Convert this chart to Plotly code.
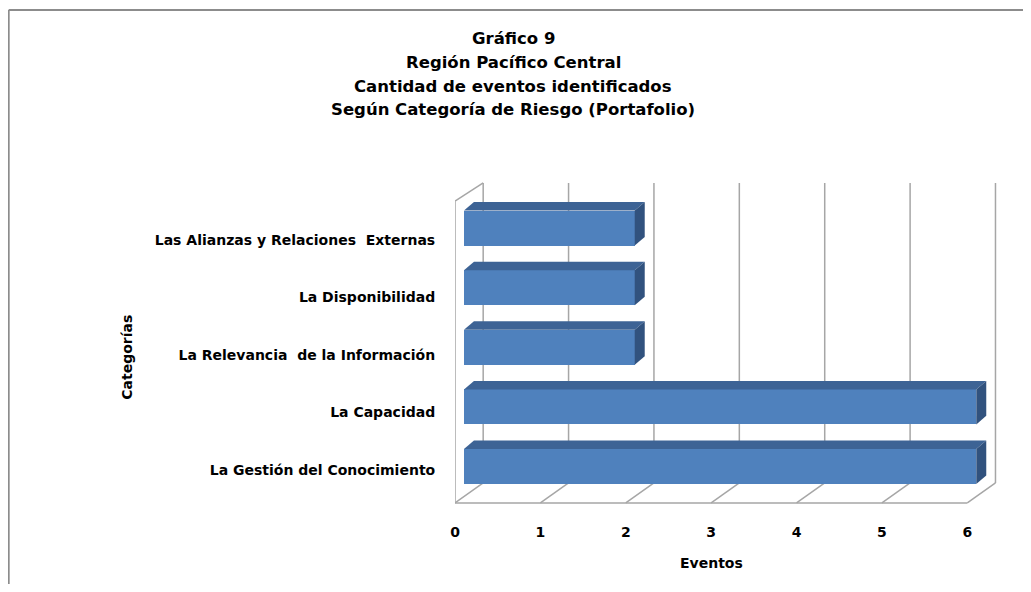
import plotly.graph_objects as go

# ---------------- data ----------------
categories = [
    "La Gestión del Conocimiento",
    "La Capacidad",
    "La Relevancia  de la Información",
    "La Disponibilidad",
    "Las Alianzas y Relaciones  Externas",
]
values = [6, 6, 2, 2, 2]
x_ticks = [0, 1, 2, 3, 4, 5, 6]
title_lines = [
    "Gráfico 9",
    "Región Pacífico Central",
    "Cantidad de eventos identificados",
    "Según Categoría de Riesgo (Portafolio)",
]
x_title = "Eventos"
y_title = "Categorías"

# ---------------- layout / style constants ----------------
OFF = 8                       # page body margin
W, H = 1031 - 2 * OFF, 592 - 2 * OFF
ML, MR, MT, MB = 447, 13.4, 162, 69
PW, PH = W - ML - MR, H - MT - MB
XR = [0, 6.5]
YR = [-0.814, 4.975]

FONT = "DejaVu Sans, Open Sans, sans-serif"
WALL = "#A6A6A6"
FRONT = "#4F81BD"
TOP = "#3D6395"
SIDE = "#31527E"

DX, DY = 0.33, 0.336          # depth of the 3-D box (data units)
FLOOR_Y = -0.612
TOP_BACK = 4.757
TOP_FRONT = TOP_BACK - DY + 0.03
BX = 0.105                    # bar front-face start (depth offset)
BH = 0.587                    # bar thickness
TX, TY = 0.117, 0.143         # bar depth
LABEL_SCALE, LABEL_SHIFT = 0.965, -0.06

idx = list(range(len(categories)))
xmax = max(x_ticks)

def px_x(p):
    return (p - OFF - ML) / PW

def px_y(p):
    return (H - MB - (p - OFF)) / PH

fig = go.Figure()

# front faces
fig.add_trace(go.Bar(
    orientation="h", y=idx, x=values, base=[BX] * len(values), width=BH,
    marker=dict(color=FRONT, line=dict(width=0)), hoverinfo="skip",
    showlegend=False,
))

# top & side faces
for i, v in zip(idx, values):
    t = i + BH / 2
    b = i - BH / 2
    fig.add_trace(go.Scatter(
        x=[BX, BX + TX, BX + v + TX, BX + v, BX],
        y=[t, t + TY, t + TY, t, t],
        fill="toself", fillcolor=TOP, mode="lines", line=dict(width=0, color=TOP),
        hoverinfo="skip", showlegend=False,
    ))
    fig.add_trace(go.Scatter(
        x=[BX + v, BX + v, BX + v + TX, BX + v + TX, BX + v],
        y=[b, t, t + TY, b + TY, b],
        fill="toself", fillcolor=SIDE, mode="lines", line=dict(width=0, color=SIDE),
        hoverinfo="skip", showlegend=False,
    ))

shapes = []
line = dict(color=WALL, width=1.5)
# back wall gridlines
for k in x_ticks:
    shapes.append(dict(type="line", xref="x", yref="y", layer="below",
                       x0=k + DX, x1=k + DX, y0=FLOOR_Y + DY, y1=TOP_BACK, line=line))
# floor diagonals
for k in x_ticks:
    shapes.append(dict(type="line", xref="x", yref="y", layer="below",
                       x0=k, x1=k + DX, y0=FLOOR_Y, y1=FLOOR_Y + DY, line=line))
# floor front edge
shapes.append(dict(type="line", xref="x", yref="y", layer="below",
                   x0=0, x1=xmax, y0=FLOOR_Y, y1=FLOOR_Y, line=line))
# left wall front edge + top
shapes.append(dict(type="line", xref="x", yref="y", layer="below",
                   x0=0, x1=0, y0=FLOOR_Y, y1=TOP_FRONT, line=line))
shapes.append(dict(type="line", xref="x", yref="y", layer="below",
                   x0=0, x1=DX, y0=TOP_FRONT, y1=TOP_BACK, line=line))
# outer chart border (left & top)
border = dict(color="#8C8C8C", width=2)
shapes.append(dict(type="line", xref="paper", yref="paper",
                   x0=px_x(9), x1=px_x(9), y0=px_y(10), y1=px_y(600), line=border))
shapes.append(dict(type="line", xref="paper", yref="paper",
                   x0=px_x(9), x1=px_x(1040), y0=px_y(10), y1=px_y(10), line=border))

annotations = []
for txt, yp in zip(title_lines, [38, 62, 86, 110]):
    annotations.append(dict(text=txt, xref="paper", yref="paper", x=px_x(513), y=px_y(yp),
                            xanchor="center", yanchor="middle", showarrow=False,
                            font=dict(family=FONT, size=16.5, color="black", weight="bold")))
annotations.append(dict(text=x_title, xref="x", yref="paper", x=3, y=px_y(563),
                        xanchor="center", yanchor="middle", showarrow=False,
                        font=dict(family=FONT, size=14, color="black", weight="bold")))
annotations.append(dict(text=y_title, xref="paper", yref="paper", x=px_x(127), y=px_y(357),
                        xanchor="center", yanchor="middle", showarrow=False, textangle=-90,
                        font=dict(family=FONT, size=14, color="black", weight="bold")))

fig.update_layout(
    width=W, height=H,
    margin=dict(l=ML, r=MR, t=MT, b=MB, pad=0),
    paper_bgcolor="white", plot_bgcolor="white",
    shapes=shapes, annotations=annotations,
    bargap=0,
    xaxis=dict(range=XR, tickvals=x_ticks, ticktext=[str(t) for t in x_ticks],
               showgrid=False, zeroline=False, showline=False,
               ticks="outside", ticklen=4, tickcolor="rgba(0,0,0,0)",
               tickfont=dict(family=FONT, size=14, color="black", weight="bold"),
               fixedrange=True),
    yaxis=dict(range=YR, tickvals=[i * LABEL_SCALE + LABEL_SHIFT for i in idx],
               ticktext=categories,
               showgrid=False, zeroline=False, showline=False,
               ticks="outside", ticklen=16, tickcolor="rgba(0,0,0,0)",
               tickfont=dict(family=FONT, size=14, color="black", weight="bold"),
               fixedrange=True),
)

fig.write_html("out.html")
